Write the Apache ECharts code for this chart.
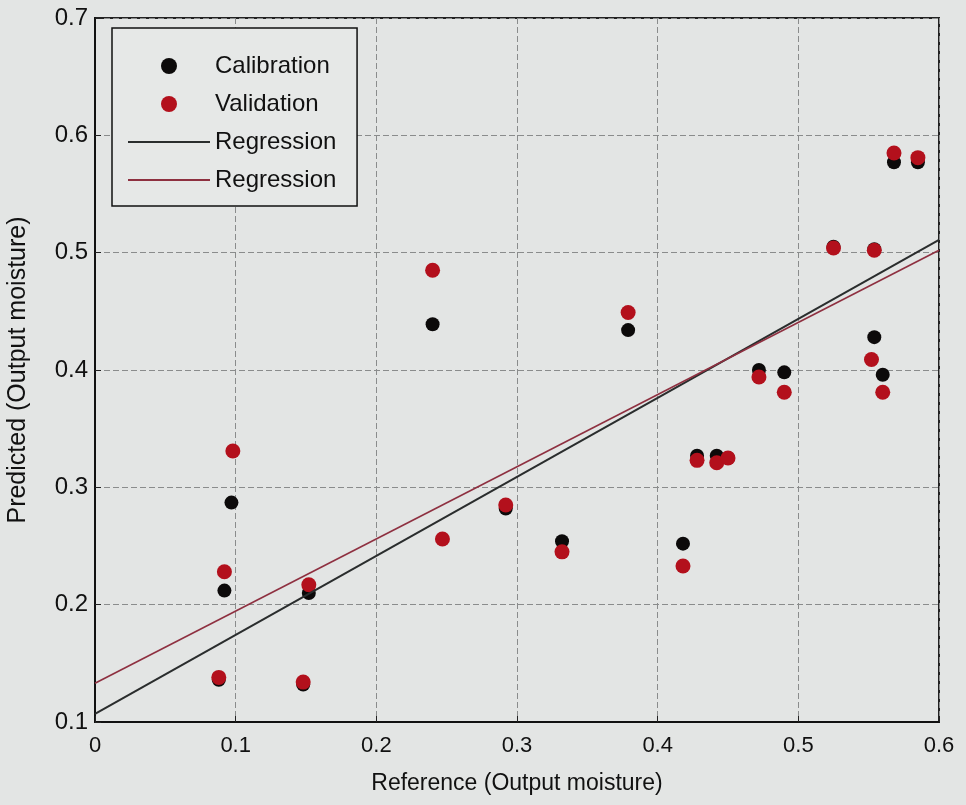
<!DOCTYPE html>
<html>
<head>
    <meta charset="utf-8">
    <script src="https://cdn.jsdelivr.net/npm/echarts@6/dist/echarts.min.js"></script>
</head>
<body style="margin:0;background:#e3e5e4">
    <div id="main" style="width:966px;height:805px"></div>
    <script type="text/javascript">
        // reference (x) vs predicted (y)
        var calX = [0.088, 0.092, 0.097, 0.152, 0.148, 0.240, 0.292, 0.332, 0.379, 0.418, 0.428, 0.442, 0.450, 0.472, 0.490, 0.525, 0.554, 0.554, 0.560, 0.568, 0.585];
        var calY = [0.136, 0.212, 0.287, 0.210, 0.132, 0.439, 0.282, 0.254, 0.434, 0.252, 0.327, 0.327, 0.325, 0.400, 0.398, 0.505, 0.428, 0.503, 0.396, 0.577, 0.577];
        var valX = [0.088, 0.092, 0.098, 0.152, 0.148, 0.240, 0.247, 0.292, 0.332, 0.379, 0.418, 0.428, 0.442, 0.450, 0.472, 0.490, 0.525, 0.554, 0.552, 0.560, 0.568, 0.585];
        var valY = [0.138, 0.228, 0.331, 0.217, 0.134, 0.485, 0.256, 0.285, 0.245, 0.449, 0.233, 0.323, 0.321, 0.325, 0.394, 0.381, 0.504, 0.502, 0.409, 0.381, 0.585, 0.581];
        var regCalX = [0, 0.6], regCalY = [0.107, 0.511];
        var regValX = [0, 0.6], regValY = [0.133, 0.502];
        var xTicks = [0, 0.1, 0.2, 0.3, 0.4, 0.5, 0.6];
        var yTicks = [0.1, 0.2, 0.3, 0.4, 0.5, 0.6, 0.7];

        function pairs(xs, ys) {
            return xs.map(function (x, i) { return [x, ys[i]]; });
        }

        var myChart = echarts.init(document.getElementById('main'));
        var font = 'Liberation Sans, Arial, sans-serif';
        var axisCommon = {
            axisLine: { show: true, lineStyle: { color: '#111', width: 2 } },
            axisTick: { show: true, inside: true, length: 6, lineStyle: { color: '#222' } },
            splitLine: { show: true, lineStyle: { color: '#8a8c8c', type: [6, 3], width: 1 } },
            axisLabel: { color: '#111', fontSize: 22, fontFamily: font },
            nameTextStyle: { color: '#111', fontSize: 23, fontFamily: font }
        };
        var hideDot = { opacity: 0, color: 'rgba(0,0,0,0)', borderWidth: 0 };
        var option = {
            backgroundColor: '#e3e5e4',
            animation: false,
            grid: { left: 95, right: 27, top: 18, bottom: 83, show: true, borderColor: '#222', borderWidth: 2, containLabel: false, outerBoundsMode: 'none' },
            legend: {
                orient: 'vertical', left: 112, top: 28,
                backgroundColor: '#e6e8e7', borderColor: '#111', borderWidth: 1.5,
                padding: [26, 14, 14, 15], itemGap: 14, itemWidth: 82, itemHeight: 16,
                textStyle: { color: '#111', fontSize: 24, fontFamily: font },
                data: [
                    'Calibration', 'Validation',
                    { name: 'Regression', itemStyle: hideDot },
                    { name: 'Regression ', itemStyle: hideDot }
                ]
            },
            xAxis: Object.assign({}, axisCommon, {
                type: 'value', min: 0, max: 0.6, interval: 0.1,
                name: 'Reference (Output moisture)', nameLocation: 'middle', nameGap: 50,
                axisLabel: Object.assign({}, axisCommon.axisLabel, { fontSize: 22, margin: 13, formatter: function (v) { return xTicks.indexOf(+v.toFixed(1)) >= 0 ? String(+v.toFixed(1)) : ''; } })
            }),
            yAxis: Object.assign({}, axisCommon, {
                type: 'value', min: 0.1, max: 0.7, interval: 0.1,
                name: 'Predicted (Output moisture)', nameLocation: 'middle', nameGap: 64,
                nameTextStyle: { color: '#111', fontSize: 25, fontFamily: font },
                axisLabel: Object.assign({}, axisCommon.axisLabel, { fontSize: 24, margin: 7, formatter: function (v) { return yTicks.indexOf(+v.toFixed(1)) >= 0 ? String(+v.toFixed(1)) : ''; } })
            }),
            series: [
                { name: 'Regression', type: 'line', data: pairs(regCalX, regCalY), symbol: 'none', lineStyle: { color: '#2a2d2d', width: 2 }, itemStyle: { color: '#2a2d2d' } },
                { name: 'Regression ', type: 'line', data: pairs(regValX, regValY), symbol: 'none', lineStyle: { color: '#8e3040', width: 1.6 }, itemStyle: { color: '#8e3040' } },
                { name: 'Calibration', type: 'scatter', data: pairs(calX, calY), symbolSize: 14, itemStyle: { color: '#0c0a0a', opacity: 1 } },
                { name: 'Validation', type: 'scatter', data: pairs(valX, valY), symbolSize: 15, itemStyle: { color: '#b3101c', opacity: 1 } }
            ]
        };
        myChart.setOption(option);
    </script>
</body>
</html>
